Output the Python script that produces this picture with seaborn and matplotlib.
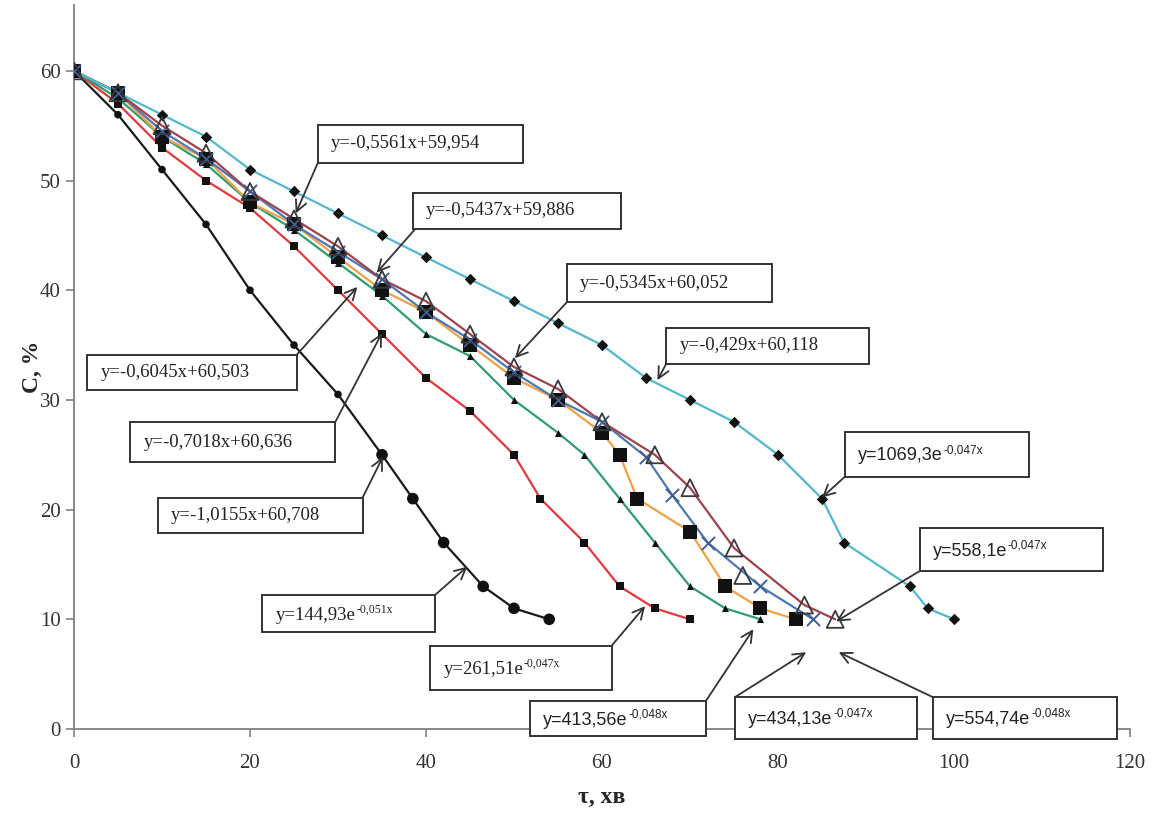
import numpy as np
import pandas as pd
import matplotlib
matplotlib.use("Agg")
import matplotlib.pyplot as plt
from matplotlib.patches import Rectangle
import seaborn as sns

# ---------------- data ----------------
black_x = [0, 5, 10, 15, 20, 25, 30, 35, 38.5, 42, 46.5, 50, 54]
black_c = [60, 56, 51, 46, 40, 35, 30.5, 25, 21, 17, 13, 11, 10]

red_x = [0, 5, 10, 15, 20, 25, 30, 35, 40, 45, 50, 53, 58, 62, 66, 70]
red_c = [60, 57, 53, 50, 47.5, 44, 40, 36, 32, 29, 25, 21, 17, 13, 11, 10]

green_x = [0, 5, 10, 15, 20, 25, 30, 35, 40, 45, 50, 55, 58, 62, 66, 70, 74, 78]
green_c = [60, 57.5, 54, 51.5, 48, 45.5, 42.5, 39.5, 36, 34, 30, 27, 25, 21, 17, 13, 11, 10]

orange_x = [0, 5, 10, 15, 20, 25, 30, 35, 40, 45, 50, 55, 60, 62, 64, 70, 74, 78, 82]
orange_c = [60, 58, 54, 52, 48, 46, 43, 40, 38, 35, 32, 30, 27, 25, 21, 18, 13, 11, 10]

blue_x = [0, 5, 10, 15, 20, 25, 30, 35, 40, 45, 50, 55, 60, 65, 68, 72, 78, 84]
blue_c = [60, 58, 54.5, 52, 49, 46, 43.5, 41, 38, 35.5, 32.5, 30, 28, 24.8, 21.3, 17, 13, 10]

brown_x = [0, 5, 10, 15, 20, 25, 30, 35, 40, 45, 50, 55, 60, 66, 70, 75, 83, 86.5]
brown_c = [60, 58, 55, 52.5, 49, 46.5, 44, 41, 39, 36, 33, 31, 28, 25, 22, 16.5, 11.3, 10]

# a stray open-triangle point that sits off the lines
tri_extra_x = [76]
tri_extra_c = [14]

cyan_x = [0, 5, 10, 15, 20, 25, 30, 35, 40, 45, 50, 55, 60, 65, 70, 75, 80, 85, 87.5, 95, 97, 100]
cyan_c = [60, 58, 56, 54, 51, 49, 47, 45, 43, 41, 39, 37, 35, 32, 30, 28, 25, 21, 17, 13, 11, 10]

x_ticks = [0, 20, 40, 60, 80, 100, 120]
y_ticks = [0, 10, 20, 30, 40, 50, 60]

lin_labels = ["y=-0,5561x+59,954", "y=-0,5437x+59,886", "y=-0,5345x+60,052",
              "y=-0,429x+60,118", "y=-0,6045x+60,503", "y=-0,7018x+60,636",
              "y=-1,0155x+60,708"]
exp_labels = [("1069,3", "-0,047x"), ("558,1", "-0,047x"), ("554,74", "-0,048x"),
              ("434,13", "-0,047x"), ("413,56", "-0,048x"), ("261,51", "-0,047x"),
              ("144,93", "-0,051x")]

# ---------------- styling ----------------
sns.set_theme(style="white")
plt.rcParams['font.family'] = ['Liberation Serif', 'DejaVu Serif']

series = [
    ("black", black_x, black_c, "#1a1a1a"),
    ("red", red_x, red_c, "#e5383e"),
    ("green", green_x, green_c, "#2e9e6e"),
    ("orange", orange_x, orange_c, "#f2a044"),
    ("blue", blue_x, blue_c, "#4a78b8"),
    ("brown", brown_x, brown_c, "#a3404c"),
    ("cyan", cyan_x, cyan_c, "#4fb9cd"),
]
df = pd.concat([pd.DataFrame({"x": xs, "c": cs, "series": name})
                for name, xs, cs, _ in series], ignore_index=True)
palette = {name: col for name, _, _, col in series}
extra = pd.DataFrame({"x": tri_extra_x, "c": tri_extra_c})

fig = plt.figure(figsize=(11.66, 8.18), dpi=100)
ax = fig.add_axes([74 / 1166, 89 / 818, 1056 / 1166, 724 / 818])

sns.lineplot(data=df, x="x", y="c", hue="series", palette=palette, sort=False,
             estimator=None, legend=False, linewidth=1.6, ax=ax, zorder=2)

def pts(name):
    return df[df.series == name]

# markers
b = pts("black")
sns.scatterplot(data=b, x="x", y="c", marker="o", color="#111111",
                size=np.where(b.x >= 35, 2, 1), sizes={1: 30, 2: 70},
                legend=False, linewidth=0, ax=ax, zorder=4)
sns.scatterplot(data=pts("red"), x="x", y="c", marker="s", color="#111111", s=28,
                linewidth=0, ax=ax, zorder=4, legend=False)
sns.scatterplot(data=pts("green"), x="x", y="c", marker="^", color="#111111", s=26,
                linewidth=0, ax=ax, zorder=4, legend=False)
sns.scatterplot(data=pts("orange"), x="x", y="c", marker="s", color="#111111", s=95,
                linewidth=0, ax=ax, zorder=4, legend=False)
sns.scatterplot(data=pts("blue"), x="x", y="c", marker="x", color="#3d5f96", s=90,
                linewidth=1.4, ax=ax, zorder=5, legend=False)
for d in (pts("brown"), extra):
    sns.scatterplot(data=d, x="x", y="c", marker="^", facecolors="none",
                    edgecolor="#3a3a3a", s=150, linewidth=1.3, ax=ax, zorder=5, legend=False)
sns.scatterplot(data=pts("cyan"), x="x", y="c", marker="D", color="#111111", s=34,
                linewidth=0, ax=ax, zorder=4, legend=False)

ax.set_xlim(0, 120)
ax.set_ylim(0, 66)
ax.set_xticks(x_ticks)
ax.set_yticks(y_ticks)
for s in ["top", "right"]:
    ax.spines[s].set_visible(False)
for s in ["left", "bottom"]:
    ax.spines[s].set_color("#808080")
    ax.spines[s].set_linewidth(1.3)
ax.tick_params(axis="both", direction="out", length=6, width=1.2, color="#808080",
               labelsize=15, labelcolor="#333333", bottom=True, left=True)
ax.tick_params(axis="x", pad=12)
ax.set_ylabel("C, %", fontsize=17, fontweight="bold")
ax.yaxis.set_label_coords(-0.029, 0.5)
ax.set_xlabel("τ, хв", fontsize=17, fontweight="bold", labelpad=10)

# ---------------- annotation boxes ----------------
# (x0, x1, y0, y1) box in data units, arrow start and tip
lin_boxes = [
    ((27.7, 51.0, 51.6, 55.1), (27.7, 51.6), (25.2, 47.0)),
    ((38.5, 62.2, 45.6, 48.9), (38.8, 45.6), (34.4, 41.6)),
    ((56.0, 79.3, 38.9, 42.4), (56.0, 38.9), (50.1, 33.8)),
    ((67.3, 90.3, 33.3, 36.6), (67.3, 33.3), (66.3, 31.8)),
    ((1.5, 25.3, 30.9, 34.1), (25.3, 34.1), (32.2, 40.3)),
    ((6.4, 29.7, 24.3, 28.0), (29.7, 28.0), (35.0, 36.1)),
    ((9.5, 32.8, 17.9, 21.1), (32.8, 21.1), (35.1, 24.8)),
]
exp_boxes = [
    ((87.6, 108.5, 23.0, 27.1), (87.6, 23.0), (85.0, 21.1)),
    ((96.1, 116.9, 14.4, 18.3), (96.1, 14.4), (86.6, 9.8)),
    ((97.6, 118.5, -0.9, 2.9), (97.6, 2.9), (86.9, 7.0)),
    ((75.1, 95.8, -0.9, 2.9), (75.1, 2.9), (83.2, 7.0)),
    ((51.8, 71.8, -0.65, 2.55), (71.8, 2.55), (77.2, 9.1)),
    ((40.5, 61.1, 3.6, 7.6), (61.1, 7.6), (64.9, 11.2)),
    ((21.4, 41.0, 8.8, 12.2), (41.0, 12.2), (44.7, 14.8)),
]
exp_serif = [False, False, False, False, False, True, True]

def draw_box(box, start, tip):
    x0, x1, y0, y1 = box
    ax.add_patch(Rectangle((x0, y0), x1 - x0, y1 - y0, facecolor="white",
                           edgecolor="#333333", linewidth=1.4, clip_on=False, zorder=8))
    ax.annotate("", xy=tip, xytext=start, zorder=7, annotation_clip=False,
                arrowprops=dict(arrowstyle="->", color="#333333", lw=1.3,
                                shrinkA=0, shrinkB=0, mutation_scale=20))

for text, (box, start, tip) in zip(lin_labels, lin_boxes):
    draw_box(box, start, tip)
    x0, x1, y0, y1 = box
    ax.text(x0 + 1.5, (y0 + y1) / 2, text, ha="left", va="center", fontsize=13.5,
            color="#222222", zorder=9, family=["Liberation Serif"])

fig.canvas.draw()
for (coef, expo), (box, start, tip), serif in zip(exp_labels, exp_boxes, exp_serif):
    draw_box(box, start, tip)
    x0, x1, y0, y1 = box
    fam = "Liberation Serif" if serif else "Liberation Sans"
    t = ax.text(x0 + 1.5, (y0 + y1) / 2 - 0.15, f"y={coef}e", ha="left", va="center",
                fontsize=13 if not serif else 13.5, color="#222222", zorder=9, family=[fam])
    r = fig.canvas.get_renderer()
    bb = t.get_window_extent(renderer=r)
    ax.annotate(expo, xy=(bb.x1, bb.y1), xycoords="figure pixels",
                xytext=(0.5, -2), textcoords="offset points", ha="left", va="center",
                fontsize=8.5, color="#222222", zorder=9, family=[fam],
                annotation_clip=False)

fig.savefig("out.png", dpi=100)
